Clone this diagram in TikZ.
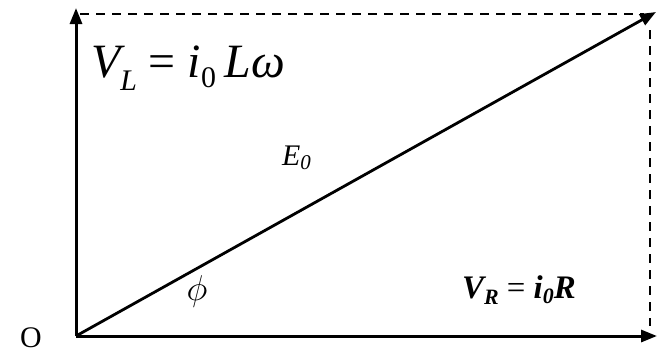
\RequirePackage{fix-cm}
\documentclass[tikz,border=0pt]{standalone}
\usepackage{fontspec}
\setmainfont{Liberation Serif}
\usetikzlibrary{arrows.meta}
\begin{document}
\begin{tikzpicture}[x=1bp,y=-1bp,
  axis/.style={line width=3bp,-{Triangle[length=16bp,width=12bp]}},
  guide/.style={line width=2bp,dash pattern=on 9bp off 7bp},
  lbl/.style={inner sep=0pt,anchor=base west}]
\useasboundingbox (0,0) rectangle (658,354);
\coordinate (O) at (76,336);
\coordinate (X) at (657,336);
\coordinate (Y) at (76,8);
\coordinate (P) at (656,12);
\coordinate (TL) at (80,14);
\coordinate (TR) at (644,14);
\coordinate (RT) at (650,30);
\coordinate (RB) at (650,326);
\draw[guide] (TL) -- (TR);
\draw[guide] (RT) -- (RB);
\draw[axis] (O) -- (X);
\draw[axis] (O) -- (Y);
\draw[axis,line width=2.8bp] (O) -- (P);
\node[lbl] (vl) at (91,77) {\fontsize{48}{56}\selectfont\itshape V\raisebox{-13bp}{\fontsize{30}{34}\selectfont L}\upshape\ =\ \itshape i\raisebox{-10bp}{\upshape\fontsize{30}{34}\selectfont 0}\,L\kern1bp ω};
\node[lbl] (e0) at (282,165) {\fontsize{30}{34}\selectfont\itshape E\raisebox{-4bp}{\fontsize{21}{24}\selectfont 0}};
\node[inner sep=0pt] (phi) at (197,292) {\fontsize{36}{40}\selectfont$\phi$};
\node[lbl] (vr) at (462,298) {\fontsize{33}{38}\selectfont\bfseries\itshape V\raisebox{-6bp}{\fontsize{22}{26}\selectfont R}\upshape\mdseries\ =\ \bfseries\itshape i\raisebox{-5bp}{\fontsize{22}{26}\selectfont 0}R};
\node[inner sep=0pt] (o) at (31,338) {\fontsize{30}{34}\selectfont O};
\end{tikzpicture}
\end{document}
